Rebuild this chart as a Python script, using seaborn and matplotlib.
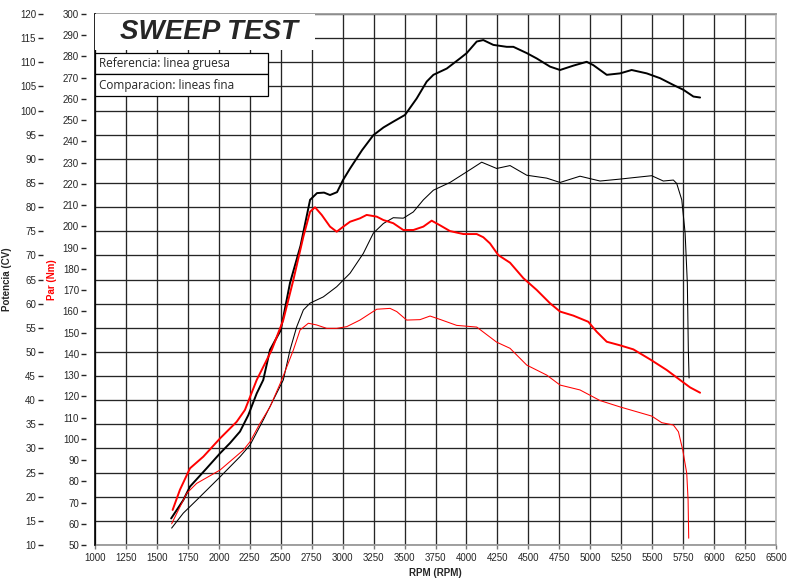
import numpy as np
import pandas as pd
import matplotlib
matplotlib.use("Agg")
import matplotlib.pyplot as plt
import seaborn as sns
from matplotlib.patches import Rectangle

# potencia referencia (linea gruesa, negra)
rpm_pot_ref = [1615, 1713, 1767, 1902, 2010, 2090, 2171, 2238, 2306, 2359, 2413, 2500, 2575, 2660, 2737,
               2793, 2850, 2898, 2955, 3003, 3060, 3157, 3248, 3330, 3409, 3504, 3598, 3679, 3733, 3841,
               3948, 4002, 4083, 4136, 4217, 4325, 4379, 4487, 4567, 4675, 4756, 4863, 4971, 5025, 5133,
               5241, 5334, 5456, 5564, 5671, 5752, 5833, 5887]
pot_ref = [15.5, 19.3, 22.1, 25.9, 29.0, 31.1, 33.5, 36.9, 41.4, 44.2, 50.4, 54.5, 64.3, 72.0, 81.5,
           82.9, 83.0, 82.5, 83.1, 85.6, 88.0, 91.8, 94.9, 96.5, 97.7, 99.1, 102.5, 106.0, 107.4, 108.7,
           110.8, 111.9, 114.3, 114.6, 113.6, 113.2, 113.2, 111.9, 110.8, 109.1, 108.4, 109.3, 110.1, 109.4, 107.4,
           107.7, 108.4, 107.7, 106.7, 105.3, 104.3, 102.9, 102.7]

# potencia comparacion (linea fina, negra)
rpm_pot_cmp = [1619, 1713, 1821, 2010, 2171, 2252, 2359, 2521, 2575, 2629, 2683, 2737, 2844, 2952, 3060,
               3167, 3248, 3329, 3409, 3490, 3571, 3652, 3733, 3867, 4002, 4123, 4244, 4352, 4487, 4648,
               4756, 4917, 5079, 5241, 5348, 5496, 5590, 5671, 5698, 5739, 5766, 5784, 5792, 5798]
pot_cmp = [13.5, 16.6, 19.3, 24.1, 28.3, 30.7, 35.9, 44.2, 50.4, 55.2, 58.7, 60.1, 61.4, 63.5, 66.3,
           70.4, 74.6, 76.6, 77.8, 77.7, 79.0, 81.5, 83.5, 85.1, 87.3, 89.3, 88.0, 88.6, 86.6, 86.0,
           85.1, 86.4, 85.4, 85.8, 86.1, 86.5, 85.4, 85.6, 84.9, 81.5, 74.6, 64.2, 50.4, 44.6]

# par referencia (linea gruesa, roja)
rpm_par_ref = [1627, 1686, 1767, 1875, 2010, 2144, 2211, 2306, 2427, 2521, 2602, 2683, 2737, 2777, 2831,
               2898, 2952, 3006, 3060, 3140, 3194, 3275, 3329, 3409, 3490, 3571, 3652, 3719, 3787, 3867,
               3975, 4083, 4136, 4190, 4257, 4352, 4460, 4567, 4675, 4756, 4863, 4984, 5052, 5133, 5241,
               5348, 5483, 5617, 5725, 5806, 5887]
par_ref = [66.5, 76.0, 86.1, 91.6, 100.2, 108.0, 113.6, 127.7, 141.8, 156.0, 174.8, 195.2, 206.9, 209.0, 205.4,
           199.9, 197.5, 199.9, 202.2, 203.8, 205.4, 204.6, 203.0, 201.5, 198.3, 198.3, 199.9, 202.7, 200.5, 197.8,
           196.4, 196.4, 194.9, 192.0, 186.5, 182.9, 175.6, 170.1, 163.8, 159.9, 158.0, 155.1, 150.4, 145.7, 144.0,
           142.1, 137.4, 132.4, 127.7, 124.2, 121.7]

# par comparacion (linea fina, roja)
rpm_par_cmp = [1619, 1740, 1821, 2010, 2198, 2252, 2333, 2414, 2508, 2602, 2656, 2723, 2790, 2871, 2952,
               3033, 3140, 3275, 3383, 3437, 3517, 3625, 3706, 3787, 3921, 4083, 4244, 4352, 4487, 4648,
               4756, 4917, 5079, 5241, 5496, 5577, 5671, 5712, 5747, 5779, 5790, 5795]
par_cmp = [60.0, 74.3, 79.0, 85.3, 94.7, 98.6, 107.3, 115.1, 127.7, 141.8, 151.2, 154.4, 153.6, 152.0, 152.0,
           152.8, 155.9, 161.0, 161.4, 159.9, 155.9, 156.1, 157.8, 156.2, 153.4, 152.6, 145.5, 142.6, 134.7, 130.0,
           125.3, 123.0, 118.0, 115.0, 110.7, 107.6, 106.5, 103.3, 94.7, 83.8, 71.2, 53.2]

rpm_ticks = list(range(1000, 6501, 250))
pot_ticks = list(range(10, 121, 5))
par_ticks = list(range(50, 301, 10))

sns.set_style("white")
plt.rcParams['font.family'] = ['Liberation Sans', 'DejaVu Sans']

fig = plt.figure(figsize=(7.87, 5.82), dpi=100)
ax = fig.add_axes([95/787, 1-545/582, 681/787, 531/582])
ax2 = ax.twinx()

# potencia
sns.lineplot(x=rpm_pot_ref, y=pot_ref, ax=ax, color='black', lw=1.4, sort=False, estimator=None)
sns.lineplot(x=rpm_pot_cmp, y=pot_cmp, ax=ax, color='black', lw=0.75, sort=False, estimator=None)
# par
sns.lineplot(x=rpm_par_ref, y=par_ref, ax=ax2, color='red', lw=1.4, sort=False, estimator=None)
sns.lineplot(x=rpm_par_cmp, y=par_cmp, ax=ax2, color='red', lw=0.75, sort=False, estimator=None)

ax.set_xlim(1000, 6500)
ax.set_ylim(10, 120)
ax2.set_ylim(50, 300)
ax.set_xticks(rpm_ticks)
ax.set_yticks(pot_ticks)
ax2.set_yticks(par_ticks)
ax.grid(True, color='#262626', lw=0.95)
ax.set_axisbelow(True)

# ejes a la izquierda
ax.spines['left'].set_position(('outward', 37.5))
ax.spines['left'].set_visible(False)
ax.spines['top'].set_color('#999999')
ax.spines['right'].set_color('#bbbbbb')
ax.spines['bottom'].set_color('#999999')
for s in ['top', 'right', 'bottom']:
    ax.spines[s].set_linewidth(1.3)

ax2.yaxis.set_ticks_position('left')
ax2.yaxis.set_label_position('left')
ax2.spines['left'].set_position(('outward', 6.5))
ax2.spines['left'].set_visible(False)
ax2.spines['top'].set_visible(False)
ax2.spines['bottom'].set_visible(False)
ax2.spines['right'].set_position(('axes', 0.0))
ax2.spines['right'].set_color('black')
ax2.spines['right'].set_linewidth(1.2)

ax.tick_params(axis='y', direction='out', length=3.5, width=1, pad=1.5, labelsize=7, left=True)
ax2.tick_params(axis='y', direction='out', length=3.5, width=1, pad=1.5, labelsize=7, left=True, right=False)
ax.tick_params(axis='x', direction='out', length=3, width=1, pad=3, labelsize=7, bottom=True, color='#777777')

ax.set_xlabel('RPM (RPM)', fontsize=7, fontweight='bold', labelpad=3)
ax.set_ylabel('Potencia (CV)', fontsize=7, fontweight='bold')
ax.yaxis.set_label_coords(-0.122, 0.5)
ax2.set_ylabel('Par (Nm)', fontsize=7, fontweight='bold', color='red')
ax2.yaxis.set_label_coords(-0.056, 0.5)

# caja del titulo y leyenda
ax2.add_patch(Rectangle((0, 0.932), 0.323, 0.068, transform=ax2.transAxes, facecolor='white',
                        edgecolor='none', zorder=5, clip_on=False))
ax2.text(0.037, 0.966, 'SWEEP TEST', transform=ax2.transAxes, fontsize=20, fontweight='bold',
         fontstyle='italic', ha='left', va='center', zorder=6)
ax2.add_patch(Rectangle((0, 0.887), 0.254, 0.0395, transform=ax2.transAxes, facecolor='white',
                        edgecolor='black', lw=0.9, zorder=5))
ax2.add_patch(Rectangle((0, 0.8456), 0.254, 0.0414, transform=ax2.transAxes, facecolor='white',
                        edgecolor='black', lw=0.9, zorder=5))
ax2.text(0.006, 0.906, 'Referencia: linea gruesa', transform=ax2.transAxes, fontsize=8.5,
         family=['Open Sans', 'DejaVu Sans'], ha='left', va='center', zorder=6)
ax2.text(0.006, 0.866, 'Comparacion: lineas fina', transform=ax2.transAxes, fontsize=8.5,
         family=['Open Sans', 'DejaVu Sans'], ha='left', va='center', zorder=6)

fig.savefig('out.png', dpi=100)
